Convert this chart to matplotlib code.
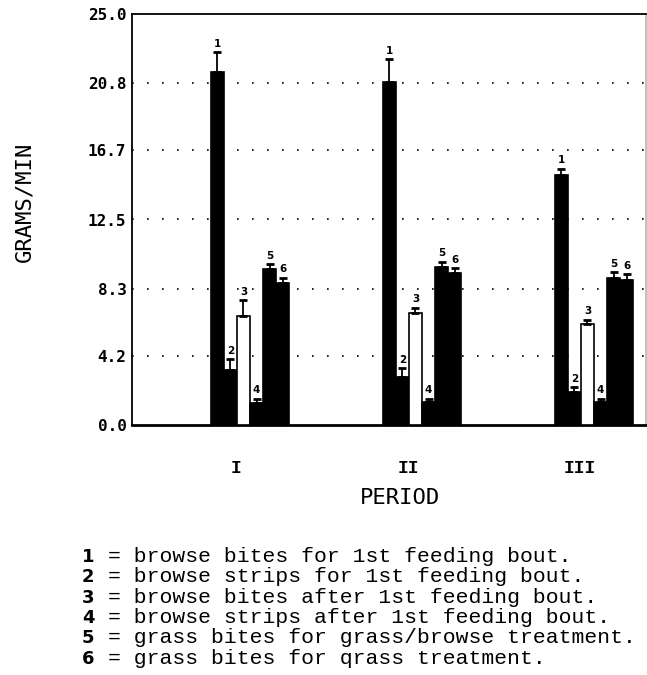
import matplotlib
matplotlib.use("Agg")
import matplotlib.pyplot as plt
import numpy as np

# ---- data ----
periods = ["I", "II", "III"]
series_ids = ["1", "2", "3", "4", "5", "6"]
values = {
    "I":   [21.5, 3.35, 6.6, 1.34, 9.5, 8.66],
    "II":  [20.85, 2.93, 6.83, 1.4, 9.63, 9.27],
    "III": [15.2, 2.0, 6.16, 1.4, 8.96, 8.84],
}
errors = {
    "I":   [1.2, 0.65, 1.0, 0.26, 0.3, 0.3],
    "II":  [1.4, 0.55, 0.3, 0.2, 0.3, 0.25],
    "III": [0.4, 0.3, 0.25, 0.2, 0.35, 0.35],
}
ytick_vals = [0.0, 4.2, 8.3, 12.5, 16.7, 20.8, 25.0]
ytick_labels = ["0.0", "4.2", "8.3", "12.5", "16.7", "20.8", "25.0"]
legend_lines = [
    "= browse bites for 1st feeding bout.",
    "= browse strips for 1st feeding bout.",
    "= browse bites after 1st feeding bout.",
    "= browse strips after 1st feeding bout.",
    "= grass bites for grass/browse treatment.",
    "= grass bites for qrass treatment.",
]

W, H = 647, 675
fig = plt.figure(figsize=(W / 100, H / 100), dpi=100)
fig.patch.set_facecolor("white")

def fx(px):
    return px / W

def fy(py):
    return 1 - py / H

ax = fig.add_axes([fx(132), fy(425), fx(646) - fx(132), fy(14) - fy(425)])

w = 0.076
x = np.arange(len(periods))
fills = ["black", "black", "white", "black", "black", "black"]

for gi, p in enumerate(periods):
    for si in range(len(series_ids)):
        xc = x[gi] + (si - 2.5) * w
        v = values[p][si]
        e = errors[p][si]
        ax.bar(xc, v, width=w, color=fills[si], edgecolor="black",
               linewidth=1.2, zorder=3)
        ax.errorbar(xc, v, yerr=[[0], [e]], fmt="none", ecolor="black",
                    elinewidth=1.3, capsize=3, capthick=2, zorder=4)
        ax.text(xc, v + e + 0.2, series_ids[si], ha="center", va="bottom",
                fontsize=7.5, fontweight="bold", family="DejaVu Sans", zorder=5)

ax.set_xlim((132 - 250) / 172, (646 - 250) / 172)
ax.set_ylim(0, 25)

# grid lines
for yv in ytick_vals[1:-1]:
    ax.axhline(yv, color="black", linewidth=1.2, linestyle=(0, (1, 8)), zorder=1)

ax.set_yticks(ytick_vals)
ax.set_yticklabels(ytick_labels, family="DejaVu Sans Mono", fontweight="bold",
                   fontsize=11.5)
ax.set_xticks(x - 0.08)
ax.set_xticklabels(periods, family="Liberation Mono", fontweight="bold", fontsize=13)
ax.tick_params(axis="both", length=0)
ax.tick_params(axis="y", pad=4)
ax.tick_params(axis="x", pad=25)

for s in ["left", "top", "right"]:
    ax.spines[s].set_linewidth(1.3)
ax.spines["right"].set_color("#bbbbbb")
ax.spines["bottom"].set_linewidth(2)

fig.text(fx(400), fy(498), "PERIOD", ha="center", va="center",
         family="DejaVu Sans Mono", fontsize=16)
fig.text(fx(24), fy(202), "GRAMS/MIN", ha="center", va="center", rotation=90,
         family="DejaVu Sans Mono", fontsize=16)

for i, line in enumerate(legend_lines):
    base = 562 + 20.3 * i
    fig.text(fx(82), fy(base), series_ids[i], ha="left", va="baseline",
             family="DejaVu Sans", fontweight="bold", fontsize=13)
    fig.text(fx(108), fy(base), line, ha="left", va="baseline",
             family="Liberation Mono", fontsize=15.4)

fig.savefig("out.png", dpi=100, facecolor="white")
